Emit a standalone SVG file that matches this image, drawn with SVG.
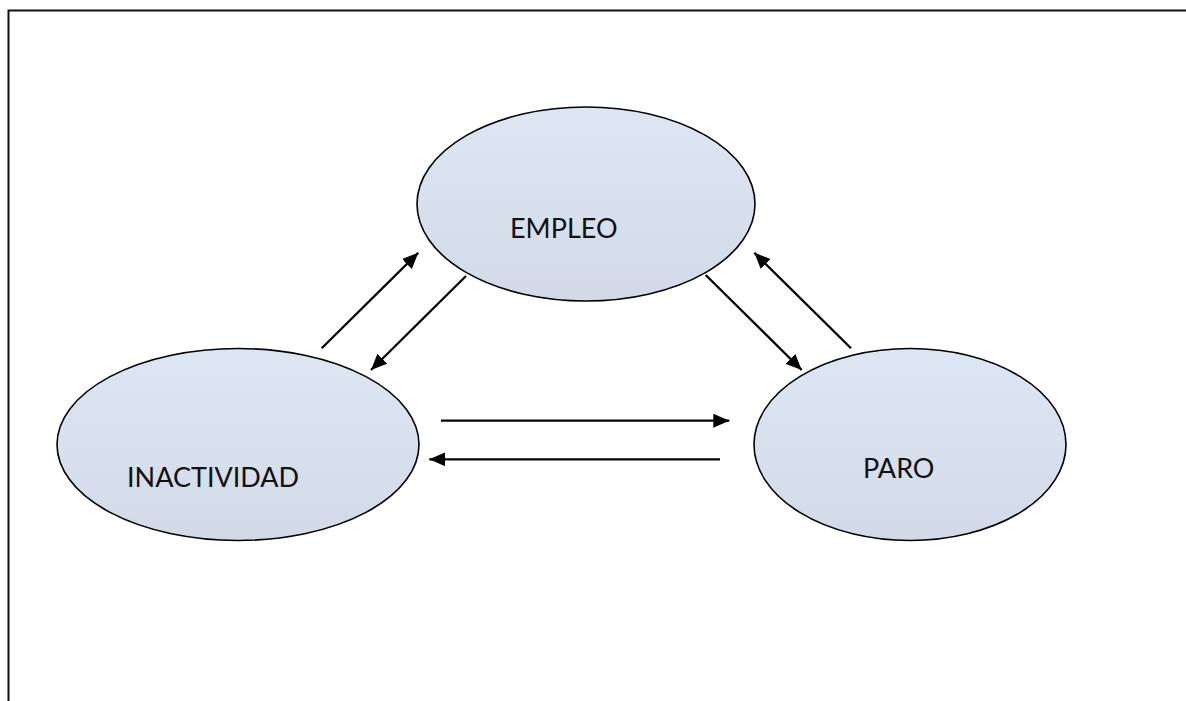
<svg xmlns="http://www.w3.org/2000/svg" width="1186" height="701" viewBox="0 0 1186 701">
  <defs>
    <linearGradient id="fill" x1="0" y1="0" x2="0" y2="1">
      <stop offset="0" stop-color="#dde7f3"/>
      <stop offset="1" stop-color="#d2dae7"/>
    </linearGradient>
    <marker id="arrow" markerUnits="userSpaceOnUse" markerWidth="17" markerHeight="15" refX="16" refY="7" orient="auto">
      <path d="M0,0 L16,7 L0,14 z" fill="#000"/>
    </marker>
    <style>
      .node { fill: url(#fill); stroke: #000; stroke-width: 1.6; }
      .label { font-family: Lato, "Open Sans", sans-serif; font-size: 27px; fill: #111; }
      .conn line { stroke: #000; stroke-width: 2.3; marker-end: url(#arrow); }
      .frame { stroke: #111; stroke-width: 2; fill: none; }
    </style>
  </defs>
  <rect width="1186" height="701" fill="#fff"/>
  <path class="frame" d="M8.5,701 V10.5 H1186"/>
  <g id="empleo">
    <ellipse class="node" cx="586" cy="204" rx="169" ry="97"/>
    <text class="label" x="510" y="238">EMPLEO</text>
  </g>
  <g id="inactividad">
    <ellipse class="node" cx="238" cy="444.5" rx="181" ry="96"/>
    <text class="label" x="127" y="487">INACTIVIDAD</text>
  </g>
  <g id="paro">
    <ellipse class="node" cx="910" cy="444.5" rx="156" ry="96"/>
    <text class="label" x="863" y="478">PARO</text>
  </g>
  <g id="connectors" class="conn">
    <line x1="321.7" y1="348.3" x2="418.3" y2="252.7"/>
    <line x1="466" y1="276" x2="371" y2="370"/>
    <line x1="705.7" y1="275" x2="801.7" y2="370"/>
    <line x1="851" y1="348.3" x2="754.3" y2="252.7"/>
    <line x1="441" y1="420.7" x2="729.3" y2="420.7"/>
    <line x1="720" y1="459.3" x2="429.3" y2="459.3"/>
  </g>
</svg>
